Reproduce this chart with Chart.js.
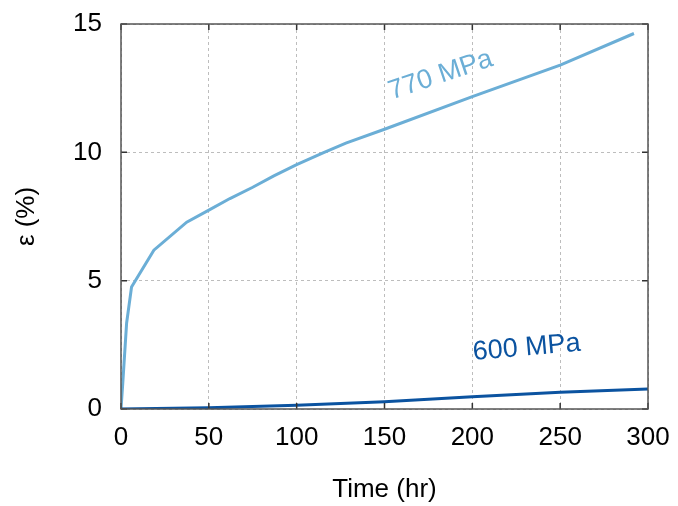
<!DOCTYPE html>
<html>
<head>
<meta charset="utf-8">
<script src="https://cdn.jsdelivr.net/npm/chart.js@4.4.1/dist/chart.umd.min.js"></script>
<style>
  html, body { margin: 0; padding: 0; background: #fff; }
  #wrap { width: 678px; height: 506px; }
</style>
</head>
<body>
<div id="wrap"><canvas id="creep"></canvas></div>
<script>
// strain curves (time in hr, strain in %)
const time770 = [0, 1, 3.2, 6, 18.7, 37.4, 50, 62, 75, 87, 100, 115, 128, 150, 200, 250, 292];
const strain770 = [0, 1.0, 3.35, 4.75, 6.19, 7.28, 7.75, 8.2, 8.64, 9.08, 9.52, 9.98, 10.36, 10.9, 12.17, 13.4, 14.63];
const time600 = [0, 50, 100, 150, 200, 250, 300];
const strain600 = [0, 0.05, 0.15, 0.28, 0.48, 0.65, 0.78];

const xTicks = [0, 50, 100, 150, 200, 250, 300];
const yTicks = [0, 5, 10, 15];

const labels = [
  { text: '770 MPa', t: 182, e: 13.0, angle: -18.5, color: '#6baed6' },
  { text: '600 MPa', t: 231, e: 2.38, angle: -5, color: '#0b53a0' },
];

const fontFamily = '"Liberation Sans", Arial, Helvetica, sans-serif';

function toPoints(xs, ys) {
  return xs.map((x, i) => ({ x: x, y: ys[i] }));
}

// inward tick marks on all four sides, like the original plot frame
const innerTicks = {
  id: 'innerTicks',
  afterDatasetsDraw(chart) {
    const { ctx, chartArea: a, scales } = chart;
    const len = 6;
    ctx.save();
    ctx.strokeStyle = '#333';
    ctx.lineWidth = 1.5;
    ctx.beginPath();
    xTicks.forEach((v) => {
      const px = scales.x.getPixelForValue(v);
      ctx.moveTo(px, a.bottom); ctx.lineTo(px, a.bottom - len);
      ctx.moveTo(px, a.top); ctx.lineTo(px, a.top + len);
    });
    yTicks.forEach((v) => {
      const py = scales.y.getPixelForValue(v);
      ctx.moveTo(a.left, py); ctx.lineTo(a.left + len, py);
      ctx.moveTo(a.right, py); ctx.lineTo(a.right - len, py);
    });
    ctx.stroke();
    ctx.strokeStyle = '#555';
    ctx.lineWidth = 1.5;
    ctx.strokeRect(a.left, a.top, a.right - a.left, a.bottom - a.top);
    ctx.restore();
  },
};

// series names written along the curves
const curveLabels = {
  id: 'curveLabels',
  afterDatasetsDraw(chart) {
    const { ctx, scales } = chart;
    ctx.save();
    ctx.font = '27px ' + fontFamily;
    ctx.textAlign = 'center';
    ctx.textBaseline = 'middle';
    labels.forEach((l) => {
      ctx.save();
      ctx.translate(scales.x.getPixelForValue(l.t), scales.y.getPixelForValue(l.e));
      ctx.rotate(l.angle * Math.PI / 180);
      ctx.fillStyle = l.color;
      ctx.fillText(l.text, 0, 0);
      ctx.restore();
    });
    ctx.restore();
  },
};

new Chart(document.getElementById('creep'), {
  type: 'scatter',
  data: {
    datasets: [
      {
        label: '600 MPa',
        data: toPoints(time600, strain600),
        showLine: true,
        borderColor: '#0b53a0',
        borderWidth: 3,
        pointRadius: 0,
        tension: 0,
      },
      {
        label: '770 MPa',
        data: toPoints(time770, strain770),
        showLine: true,
        borderColor: '#6baed6',
        borderWidth: 3,
        pointRadius: 0,
        tension: 0,
      },
    ],
  },
  options: {
    responsive: true,
    maintainAspectRatio: false,
    animation: false,
    layout: { padding: { top: 24, right: 30, left: 0, bottom: 0 } },
    plugins: {
      legend: { display: false },
      tooltip: { enabled: false },
    },
    scales: {
      x: {
        type: 'linear',
        min: 0,
        max: 300,
        afterBuildTicks: (s) => { s.ticks = xTicks.map((v) => ({ value: v })); },
        afterFit: (s) => { s.height = 97; s.paddingLeft = 0; s.paddingRight = 0; },
        grid: { color: '#bdbdbd', drawTicks: false },
        border: { display: false, dash: [3, 3] },
        ticks: { color: '#000', padding: 13, maxRotation: 0, font: { family: fontFamily, size: 26 } },
        title: { display: true, text: 'Time (hr)', color: '#000', padding: 1, font: { family: fontFamily, size: 26 } },
      },
      y: {
        type: 'linear',
        min: 0,
        max: 15,
        afterBuildTicks: (s) => { s.ticks = yTicks.map((v) => ({ value: v })); },
        afterFit: (s) => { s.width = 121; s.paddingTop = 0; s.paddingBottom = 0; },
        grid: { color: '#bdbdbd', drawTicks: false },
        border: { display: false, dash: [3, 3] },
        ticks: { color: '#000', padding: 19, font: { family: fontFamily, size: 26 } },
        title: { display: true, text: 'ε (%)', color: '#000', padding: 11, font: { family: fontFamily, size: 26 } },
      },
    },
  },
  plugins: [innerTicks, curveLabels],
});
</script>
</body>
</html>
